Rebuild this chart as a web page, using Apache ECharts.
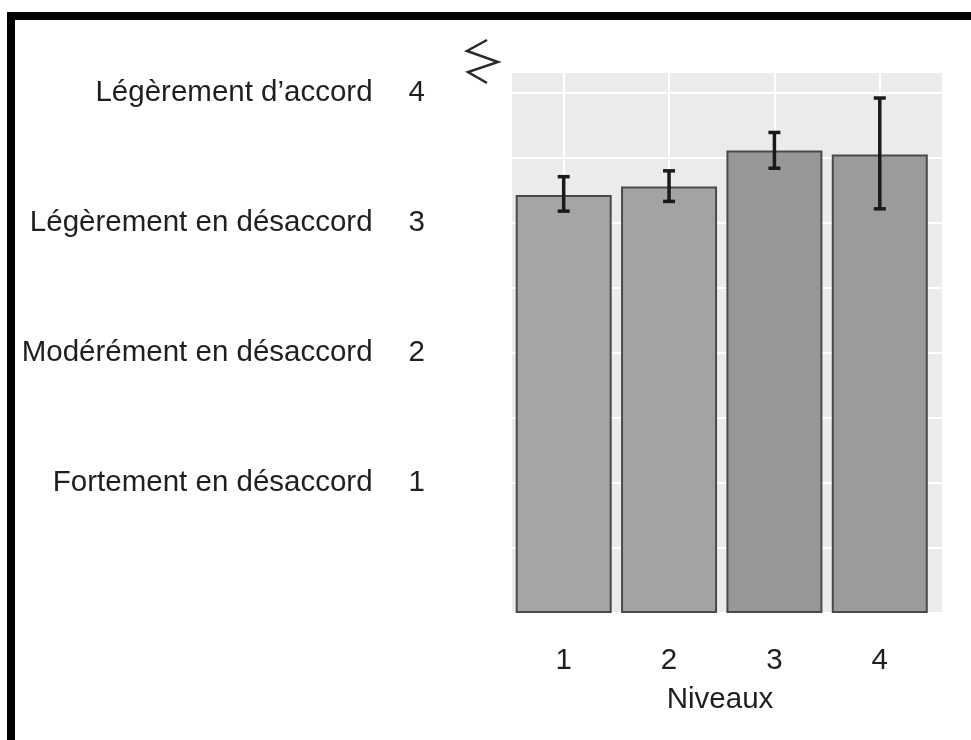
<!DOCTYPE html>
<html>
<head>
<meta charset="utf-8">
<script src="https://cdn.jsdelivr.net/npm/echarts@6/dist/echarts.min.js"></script>
<style>
  html, body { margin: 0; padding: 0; background: #fff; }
  #chart { position: absolute; left: 0; top: 0; width: 971px; height: 740px; }
  #frame { position: absolute; left: 7px; top: 12px; width: 964px; height: 728px;
           border-top: 8px solid #000; border-left: 8px solid #000;
           box-sizing: border-box; pointer-events: none; }
</style>
</head>
<body>
<div id="chart"></div>
<div id="frame"></div>
<script>
// niveaux (axe x)
const niveaux = [1, 2, 3, 4]
// moyennes et intervalles
const moyennes = [3.215, 3.28, 3.556, 3.525]
const basses = [3.09, 3.165, 3.42, 3.108]
const hautes = [3.355, 3.40, 3.695, 3.96]
// libellés de l'échelle de Likert (axe y)
const echelle = {
    1: "Fortement en désaccord",
    2: "Modérément en désaccord",
    3: "Légèrement en désaccord",
    4: "Légèrement d’accord"
}

const barColors = ["#a5a5a5", "#a3a3a3", "#979797", "#9b9b9b"]
const font = "'Liberation Sans', Arial, sans-serif"
const txt = "#1f1f1f"

let myChart = echarts.init(document.getElementById("chart"))

let option = {
    animation: false,
    textStyle: { fontFamily: font },
    grid: {
        left: 511,
        top: 72,
        width: 432,
        height: 541,
        show: true,
        backgroundColor: "#ebebeb",
        borderWidth: 0
    },
    xAxis: {
        type: "value",
        min: 0.5,
        max: 4.6,
        name: "Niveaux",
        nameLocation: "middle",
        nameGap: 72,
        nameTextStyle: { fontSize: 29.5, color: txt, fontFamily: font, padding: [0, 14, 0, 0] },
        axisLine: { show: false },
        axisTick: { show: false },
        axisLabel: {
            margin: 33,
            fontSize: 29.5,
            color: txt,
            fontFamily: font,
            showMinLabel: false,
            showMaxLabel: false,
            formatter: v => (niveaux.indexOf(v) >= 0 ? String(v) : "")
        },
        splitLine: { show: true, lineStyle: { color: "#ffffff", width: 2 } }
    },
    yAxis: {
        type: "value",
        min: 0,
        max: 4.16,
        interval: 0.5,
        axisLine: { show: false },
        axisTick: { show: false },
        axisLabel: {
            margin: 86,
            showMaxLabel: false,
            formatter: v => (echelle[v] ? "{t|" + echelle[v] + "}{n|" + v + "}" : ""),
            rich: {
                t: { fontSize: 29.5, color: txt, fontFamily: font },
                n: { fontSize: 29.5, color: txt, fontFamily: font, padding: [0, 0, 0, 36] }
            }
        },
        splitLine: { show: true, lineStyle: { color: "#ffffff", width: 2 } }
    },
    graphic: [
        {
            // symbole de rupture d'axe
            type: "polyline",
            shape: { points: [[487, 40], [467, 51], [498, 62], [468, 72], [487, 83]] },
            style: { stroke: "#2a2a2a", lineWidth: 2.5, fill: null }
        }
    ],
    series: [
        {
            type: "bar",
            barWidth: 96,
            data: niveaux.map((n, i) => ({
                value: [n, moyennes[i]],
                itemStyle: { color: barColors[i] }
            })),
            itemStyle: { borderColor: "#4a4a4a", borderWidth: 2 }
        },
        {
            type: "custom",
            data: niveaux.map((n, i) => [n, basses[i], hautes[i]]),
            renderItem: (params, api) => {
                let lo = api.coord([api.value(0), api.value(1)])
                let hi = api.coord([api.value(0), api.value(2)])
                let half = 6
                let style = { stroke: "#1a1a1a", lineWidth: 3.5 }
                return {
                    type: "group",
                    children: [
                        { type: "line", shape: { x1: lo[0], y1: lo[1], x2: hi[0], y2: hi[1] }, style: style },
                        { type: "line", shape: { x1: lo[0] - half, y1: lo[1], x2: lo[0] + half, y2: lo[1] }, style: style },
                        { type: "line", shape: { x1: hi[0] - half, y1: hi[1], x2: hi[0] + half, y2: hi[1] }, style: style }
                    ]
                }
            },
            z: 5
        }
    ]
}
myChart.setOption(option)
</script>
</body>
</html>
